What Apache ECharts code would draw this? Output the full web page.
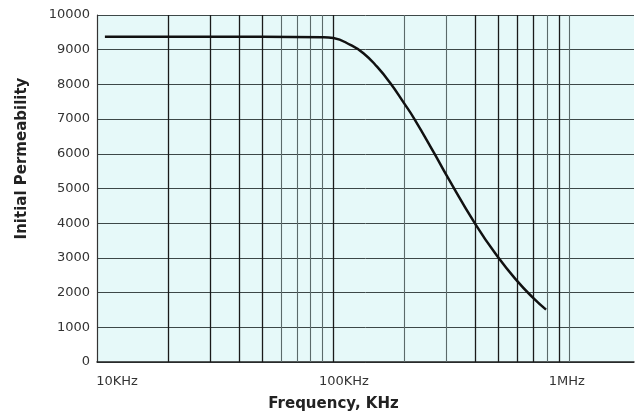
<!DOCTYPE html>
<html>
<head>
<meta charset="utf-8">
<script src="https://cdn.jsdelivr.net/npm/echarts@6/dist/echarts.min.js"></script>
<style>html,body{margin:0;padding:0;background:#fff;}#c{width:637px;height:417px;}</style>
</head>
<body>
<div id="c"></div>
<script>
// Frequency (Hz) and initial permeability
var freqHz = [10800, 50000, 90000, 100000, 118000, 134000, 153000, 174000, 199000, 219000, 267000, 300000, 400000, 495000, 600000, 700000, 794000];
var permeability = [9370, 9370, 9360, 9335, 9140, 8900, 8510, 8040, 7460, 7030, 6020, 5400, 3960, 3040, 2330, 1850, 1510];
// Vertical grid lines (Hz)
var gridDark = [20000, 30000, 40000, 50000, 100000, 400000, 500000, 600000, 700000, 900000];
var gridLight = [60000, 70000, 80000, 90000, 200000, 300000, 800000, 1000000];
// Tick labels
var xTickLabels = {10000: '10KHz', 100000: '100KHz', 1000000: '1MHz'};
var yTicks = [0, 1000, 2000, 3000, 4000, 5000, 6000, 7000, 8000, 9000, 10000];

var chart = echarts.init(document.getElementById('c'), null, {renderer: 'canvas'});
var lineData = freqHz.map(function (f, i) { return [f, permeability[i]]; });
function vlines(arr) { return arr.map(function (v) { return {xAxis: v}; }); }

chart.setOption({
  animation: false,
  backgroundColor: '#ffffff',
  grid: {left: 97, right: 0, top: 15, bottom: 54, show: true, backgroundColor: '#e6f9f9', borderWidth: 0},
  xAxis: {
    type: 'log', logBase: 10, min: 10000, max: 1870000,
    name: 'Frequency, KHz', nameLocation: 'middle', nameGap: 35,
    nameTextStyle: {fontFamily: 'DejaVu Sans', fontWeight: 'bold', fontSize: 15, color: '#222', padding: [0, 64, 0, 0]},
    axisLine: {show: true, lineStyle: {color: '#222', width: 1.5}},
    axisTick: {show: false},
    splitLine: {show: false},
    minorSplitLine: {show: false},
    axisLabel: {
      margin: 13,
      formatter: function (v) {
        var t = xTickLabels[Math.round(v)];
        if (!t) return '';
        if (Math.round(v) === 10000) return '{a|' + t + '}';
        if (Math.round(v) === 100000) return '{b|' + t + '}';
        return '{c|' + t + '}';
      },
      rich: {
        a: {fontFamily: 'DejaVu Sans', fontSize: 13, color: '#333', padding: [0, 0, 0, 40]},
        b: {fontFamily: 'DejaVu Sans', fontSize: 13, color: '#333', padding: [0, 0, 0, 21]},
        c: {fontFamily: 'DejaVu Sans', fontSize: 13, color: '#333', padding: [0, 6, 0, 0]}
      }
    }
  },
  yAxis: {
    type: 'value', min: yTicks[0], max: yTicks[yTicks.length - 1], interval: 1000,
    name: 'Initial Permeability', nameLocation: 'middle', nameGap: 67,
    nameTextStyle: {fontFamily: 'DejaVu Sans', fontWeight: 'bold', fontSize: 15, color: '#222', padding: [0, 0, 0, 60]},
    axisLine: {show: true, lineStyle: {color: '#333', width: 1.2}},
    axisTick: {show: false},
    splitLine: {show: true, lineStyle: {color: '#3d4848', width: 1}},
    axisLabel: {margin: 7, fontFamily: 'DejaVu Sans', fontSize: 13, color: '#333',
      formatter: function (v) { return String(v); }}
  },
  series: [
    {
      type: 'line', data: [], silent: true,
      markLine: {silent: true, symbol: 'none', label: {show: false}, animation: false,
        lineStyle: {color: '#1a1a1a', width: 1.3, type: 'solid'}, data: vlines(gridDark)}
    },
    {
      type: 'line', data: [], silent: true,
      markLine: {silent: true, symbol: 'none', label: {show: false}, animation: false,
        lineStyle: {color: '#5b6a6a', width: 1.1, type: 'solid'}, data: vlines(gridLight)}
    },
    {
      type: 'line', data: lineData, smooth: 0.5, showSymbol: false,
      lineStyle: {color: '#111', width: 2.5}, z: 5
    }
  ]
});
</script>
</body>
</html>
